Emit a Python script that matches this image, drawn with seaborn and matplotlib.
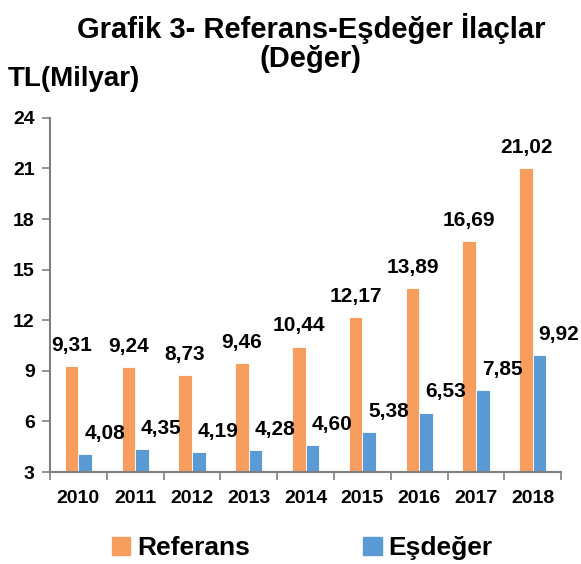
#!/usr/bin/env python3
"""Referans vs Esdeger ilac satislari (deger) bar chart."""

import numpy as np
import pandas as pd
import matplotlib
matplotlib.use("Agg")
import matplotlib.pyplot as plt
import seaborn as sns

years = ["2010", "2011", "2012", "2013", "2014", "2015", "2016", "2017", "2018"]
referans = [9.31, 9.24, 8.73, 9.46, 10.44, 12.17, 13.89, 16.69, 21.02]
esdeger = [4.08, 4.35, 4.19, 4.28, 4.60, 5.38, 6.53, 7.85, 9.92]
series = ["Referans", "Eşdeğer"]
colors = ["#F79D5E", "#5B9BD5"]
y_ticks = [3, 6, 9, 12, 15, 18, 21, 24]

df = pd.DataFrame({
    "Yil": years * 2,
    "Deger": referans + esdeger,
    "Seri": [series[0]] * len(years) + [series[1]] * len(years),
})

sns.set_style("white")
plt.rcParams["font.family"] = ["Liberation Sans", "DejaVu Sans"]
plt.rcParams["font.weight"] = "bold"
plt.rcParams["text.color"] = "black"
plt.rcParams["xtick.color"] = "black"
plt.rcParams["ytick.color"] = "black"

fig = plt.figure(figsize=(5.81, 5.64), dpi=100)
ax = fig.add_axes([0.086, 0.163, 0.88, 0.628])

sns.barplot(data=df, x="Yil", y="Deger", hue="Seri", palette=colors,
            saturation=1, width=0.48, gap=0, edgecolor="#FFFFFF",
            linewidth=0.6, legend=False, ax=ax)

ax.set_ylim(y_ticks[0], y_ticks[-1])
ax.set_xlim(-0.5, len(years) - 0.5)
ax.set_yticks(y_ticks)
ax.set_yticklabels([str(t) for t in y_ticks], fontsize=14, fontweight="bold")
ax.set_xticklabels(years, fontsize=14, fontweight="bold")
ax.set_xlabel("")
ax.set_ylabel("")

# Excel style: ticks between categories, no tick at centres
ax.tick_params(axis="x", which="major", length=0, pad=13)
ax.set_xticks(np.arange(-0.5, len(years), 1.0), minor=True)
ax.tick_params(axis="x", which="minor", length=6, width=1.2, color="#7F7F7F",
               direction="out", bottom=True)
ax.tick_params(axis="y", which="major", length=6, width=1.2, color="#7F7F7F",
               labelcolor="black", direction="out", left=True, pad=5)

for side in ["top", "right"]:
    ax.spines[side].set_visible(False)
for side in ["left", "bottom"]:
    ax.spines[side].set_color("#7F7F7F")
    ax.spines[side].set_linewidth(1.5)

# data labels
offsets = [(0, 8), (14, 8)]
for container, (dx, dy) in zip(ax.containers, offsets):
    for bar in container:
        h = bar.get_height()
        ax.annotate(f"{h:.2f}".replace(".", ","),
                    xy=(bar.get_x() + bar.get_width() / 2, h),
                    xytext=(dx, dy), textcoords="offset points",
                    ha="center", va="bottom", fontsize=15, fontweight="bold")

# title as two separate lines so the second line does not span the width
fig.text(0.535, 0.950, "Grafik 3- Referans-Eşdeğer İlaçlar",
         ha="center", va="center", fontsize=21, fontweight="bold")
fig.text(0.535, 0.895, "(Değer)",
         ha="center", va="center", fontsize=21, fontweight="bold")
fig.text(0.013, 0.860, "TL(Milyar)", ha="left", va="center",
         fontsize=20, fontweight="bold")

# legend
handles = [plt.Rectangle((0, 0), 1, 1, color=c) for c in colors]
fig.legend(handles, series, loc="lower center", bbox_to_anchor=(0.52, -0.035),
           ncol=2, frameon=False, handlelength=0.7,
           handleheight=0.7, handletextpad=0.25, columnspacing=4.3,
           prop={"weight": "bold", "size": 19})

fig.savefig("out.png", dpi=100)
plt.close(fig)
